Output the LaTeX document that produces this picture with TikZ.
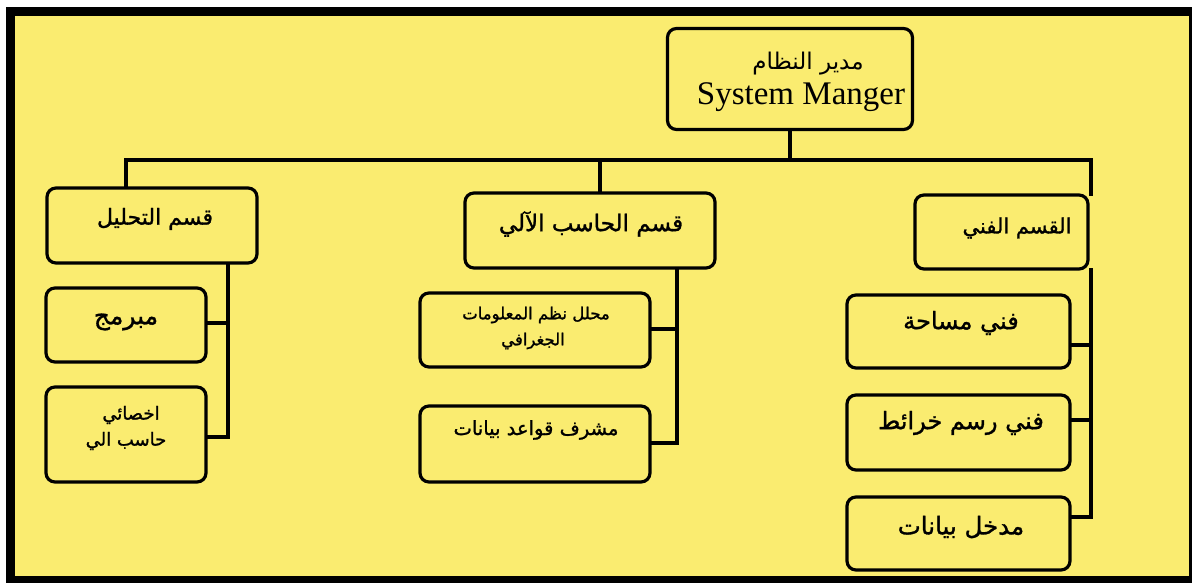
\documentclass[tikz,border=0pt]{standalone}
\usepackage{fontspec}
\setmainfont{Liberation Serif}
\newfontfamily\arabicfont[Script=Arabic, FakeBold=1.2]{DejaVu Sans}
\newfontfamily\arabictitle[Script=Arabic]{DejaVu Sans}
\TeXXeTstate=1
\definecolor{paper}{RGB}{250,236,112}
\newcommand{\ar}[1]{\arabicfont\beginR #1\endR}
\newcommand{\fs}[1]{\fontsize{#1}{#1}\selectfont}
\begin{document}
\begin{tikzpicture}[x=1pt,y=-1pt,
  box/.style={draw=black, line width=3.2pt, rounded corners=9pt, inner sep=0pt},
  lbl/.style={text=black, inner sep=0pt, align=center},
  conn/.style={draw=black, line width=4.5pt, line cap=rect}]
% page, frame and paper
\path[fill=white] (0,0) rectangle (1192,583);
\useasboundingbox (0,0) rectangle (1192,583);
\fill[black] (6,7) rectangle (1192,583);
\fill[paper] (15,16) rectangle (1189,576);

% top of the chart
\node[box, minimum width=245, minimum height=101] (sys) at (790,79) {};
\node[lbl, font=\fs{23}] (sysar) at (808,64) {\arabictitle\beginR مدير النظام\endR};
\node[lbl, font=\fs{33}] (sysen) at (801,97) {System Manger};

% departments
\node[box, minimum width=210, minimum height=75] (ana) at (152,225.5) {};
\node[lbl, font=\fs{22}] (anat) at (155,219) {\ar{قسم التحليل}};
\node[box, minimum width=250, minimum height=75] (comp) at (590,230.5) {};
\node[lbl, font=\fs{23}] (compt) at (591,224) {\ar{قسم الحاسب الآلي}};
\node[box, minimum width=173, minimum height=74] (tech) at (1001.5,232) {};
\node[lbl, font=\fs{21}] (techt) at (1017,228) {\ar{القسم الفني}};

% staff boxes
\node[box, minimum width=160, minimum height=74] (prog) at (126,325) {};
\node[lbl, font=\fs{25}] (progt) at (126,322) {\ar{مبرمج}};
\node[box, minimum width=160, minimum height=95] (spec) at (126,434.5) {};
\node[lbl, font=\fs{18}] (spect1) at (131,415) {\ar{اخصائي}};
\node[lbl, font=\fs{18}] (spect2) at (126,441) {\ar{حاسب الي}};

\node[box, minimum width=230, minimum height=74] (gis) at (535,330) {};
\node[lbl, font=\fs{16.5}] (gist1) at (536,315) {\ar{محلل نظم المعلومات}};
\node[lbl, font=\fs{16.5}] (gist2) at (533,341) {\ar{الجغرافي}};
\node[box, minimum width=230, minimum height=76] (dba) at (535,444) {};
\node[lbl, font=\fs{19.5}] (dbat) at (536,430) {\ar{مشرف قواعد بيانات}};

\node[box, minimum width=223, minimum height=73] (surv) at (958.5,331.5) {};
\node[lbl, font=\fs{24}] (survt) at (961,323) {\ar{فني مساحة}};
\node[box, minimum width=223, minimum height=75] (carto) at (958.5,432.5) {};
\node[lbl, font=\fs{24}] (cartot) at (961,423) {\ar{فني رسم خرائط}};
\node[box, minimum width=223, minimum height=73] (entry) at (958.5,533.5) {};
\node[lbl, font=\fs{24.5}] (entryt) at (961,527) {\ar{مدخل بيانات}};

% bus and spines
\coordinate (busL) at (126,160);
\coordinate (busM) at (600,160);
\coordinate (busR) at (1091,160);
\coordinate (spL) at (228,0);
\coordinate (spM) at (677,0);
\coordinate (spR) at (1091,0);

\draw[conn] (sys.south) -- (sys.south |- busL);
\draw[conn] (ana.north -| busL) -- (busL) -- (busR) -- (tech.north -| busR);
\draw[conn] (busM) -- (comp.north -| busM);

\draw[conn] (ana.south -| spL) -- (spL |- 0,437) -- (spec.east |- 0,437);
\draw[conn] (prog.east |- 0,323) -- (spL |- 0,323);

\draw[conn] (comp.south -| spM) -- (spM |- 0,443) -- (dba.east |- 0,443);
\draw[conn] (gis.east |- 0,329) -- (spM |- 0,329);

\draw[conn] (tech.south -| spR) -- (spR |- 0,517) -- (entry.east |- 0,517);
\draw[conn] (surv.east |- 0,345) -- (spR |- 0,345);
\draw[conn] (carto.east |- 0,420) -- (spR |- 0,420);
\end{tikzpicture}
\end{document}
